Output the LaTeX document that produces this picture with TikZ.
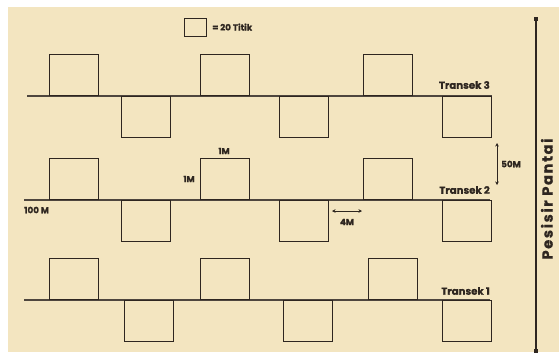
\documentclass[tikz,border=0pt]{standalone}
\usepackage{fontspec}
\usetikzlibrary{arrows.meta}
\setmainfont{Poppins}[BoldFeatures={FakeBold=0.8}]
\newfontfamily\widefont{Poppins}[LetterSpace=11,BoldFeatures={FakeBold=0.8}]
\definecolor{sand}{HTML}{F3E5C0}
\definecolor{ink}{HTML}{2E2620}
\definecolor{rope}{HTML}{4E463E}
\begin{document}
\begin{tikzpicture}[x=0.03cm,y=-0.03cm]
\tikzset{plot box/.style={shape=rectangle,draw=ink,line width=0.9pt,minimum width=1.46cm,minimum height=1.23cm,inner sep=0pt},
         up/.style={plot box,anchor=south west},
         down/.style={plot box,anchor=north west},
         label text/.style={font=\bfseries\fontsize{8.7}{10}\selectfont,text=ink,inner sep=0pt},
         small text/.style={font=\bfseries\fontsize{7.5}{8}\selectfont,text=ink,inner sep=0pt},
         rope line/.style={draw=rope,line width=0.9pt},
         end mark/.style={shape=rectangle,fill=ink,minimum size=3.2pt,inner sep=0pt},
         span/.style={draw=ink,line width=0.8pt,{Stealth[length=3pt,width=3pt]}-{Stealth[length=3pt,width=3pt]}}}

\useasboundingbox (0,0) rectangle (559,352);
\fill[white] (0,0) rectangle (559,352);
\fill[sand] (8,7) rectangle (559,352);

% legend
\node[plot box,minimum width=0.66cm,minimum height=0.54cm,anchor=north west] (key) at (184,18) {};
\node[small text,anchor=west] (keytext) at (212,27) {= 20 Titik};

% transek 3
\coordinate (l3) at (27,96);
\coordinate (r3) at (492,96);
\draw[rope line] (l3) -- (r3);
\node[up]   at (49,96)  (t3a) {};
\node[up]   at (200,96) (t3b) {};
\node[up]   at (363,96) (t3c) {};
\node[down] at (121,96) (t3d) {};
\node[down] at (279,96) (t3e) {};
\node[down] at (442,96) (t3f) {};
\node[label text,anchor=east] at (490,85) (n3) {Transek 3};

% transek 2
\coordinate (l2) at (24,200);
\coordinate (r2) at (490,200);
\draw[rope line] (l2) -- (r2);
\node[up]   at (49,200)  (t2a) {};
\node[up]   at (200,200) (t2b) {};
\node[up]   at (363,200) (t2c) {};
\node[down] at (121,200) (t2d) {};
\node[down] at (279,200) (t2e) {};
\node[down] at (442,200) (t2f) {};
\node[label text,anchor=east] at (490,190) (n2) {Transek 2};

% transek 1
\coordinate (l1) at (24,300);
\coordinate (r1) at (490,300);
\draw[rope line] (l1) -- (r1);
\node[up]   at (49,300)  (t1a) {};
\node[up]   at (200,300) (t1b) {};
\node[up]   at (368,300) (t1c) {};
\node[down] at (124,300) (t1d) {};
\node[down] at (283,300) (t1e) {};
\node[down] at (442,300) (t1f) {};
\node[label text,anchor=east] at (490,291) (n1) {Transek 1};

% ukuran
\node[small text] at (224,151) (side1) {1M};
\node[small text] at (189,179) (side2) {1M};
\node[small text,anchor=west] at (24,210) (length) {100 M};

\coordinate (g1) at (332,211);
\coordinate (g2) at (362,211);
\draw[span] (g1) -- (g2);
\node[small text] at (347,222) (gap) {4M};

\coordinate (d1) at (497,143);
\coordinate (d2) at (497,185);
\draw[span] (d1) -- (d2);
\node[small text,anchor=west] at (501,164) (dist) {50M};

% pesisir
\node[end mark] at (536,19)  (p1) {};
\node[end mark] at (536,351) (p2) {};
\draw[draw=ink,line width=1pt] (p1) -- (p2);
\node[font=\widefont\bfseries\fontsize{12.5}{14}\selectfont,text=ink,rotate=90,inner sep=0pt,anchor=south] at (553,199) (coast) {Pesisir Pantai};
\end{tikzpicture}
\end{document}
